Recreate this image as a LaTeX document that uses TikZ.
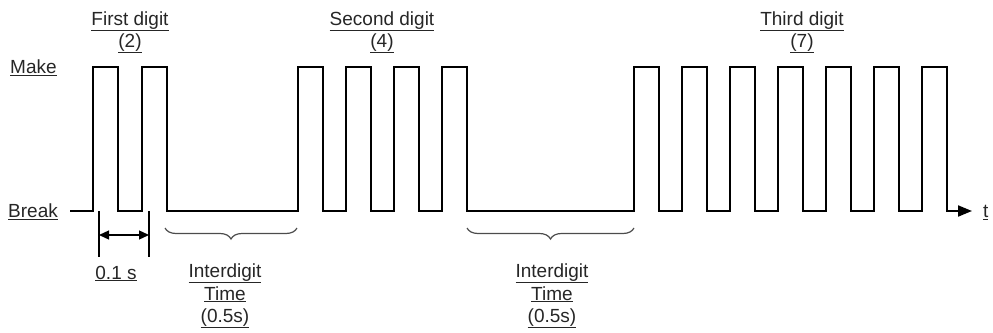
\documentclass[tikz,border=0pt]{standalone}
\usepackage{fontspec}
\setmainfont{Liberation Sans}
\usetikzlibrary{arrows.meta,decorations.pathreplacing}
\newcommand{\ul}[1]{\underline{#1}}
\begin{document}
\begin{tikzpicture}[x=1pt,y=-1pt,
  lbl/.style={inner sep=0pt,font=\fontsize{19}{23}\selectfont,text=black!85},
  wave/.style={line width=2pt,line join=miter},
  dim/.style={line width=1.3pt},
  brc/.style={line width=1.2pt,draw=black!70,decorate,decoration={brace,mirror,amplitude=11pt,raise=0pt}}]
\useasboundingbox (0,0) rectangle (993,332);
% waveform
\draw[wave,-{Triangle[length=14pt,width=11pt]}] (70,211)
  foreach \x in {93,142,298,346,394,442,634,682,730,778,826,874,922} {
    -- (\x,211) -- (\x,67) -- (\x+25,67) -- (\x+25,211) } -- (972,211);
% level labels
\node[lbl,anchor=base west] (make) at (10,73.5) {\ul{Make}};
\node[lbl,anchor=base west] (brk) at (8,217.5) {\ul{Break}};
\node[lbl,anchor=base west] (t) at (983,217.5) {\ul{t}};
% digit labels
\node[lbl,anchor=base] (d1) at (130,25) {\ul{First digit}};
\node[lbl,anchor=base] (d1n) at (130,47) {\ul{(2)}};
\node[lbl,anchor=base] (d2) at (382,25) {\ul{Second digit}};
\node[lbl,anchor=base] (d2n) at (382,47) {\ul{(4)}};
\node[lbl,anchor=base] (d3) at (802,25) {\ul{Third digit}};
\node[lbl,anchor=base] (d3n) at (802,47) {\ul{(7)}};
% 0.1 s dimension
\coordinate (da1) at (99,211);
\coordinate (da2) at (99,257);
\coordinate (db1) at (149,211);
\coordinate (db2) at (149,257);
\coordinate (ma) at (99,235);
\coordinate (mb) at (149,235);
\draw[dim] (da1) -- (da2);
\draw[dim] (db1) -- (db2);
\draw[dim,{Triangle[length=10pt,width=9pt]}-{Triangle[length=10pt,width=9pt]}] (ma) -- (mb);
\node[lbl,anchor=base] (p1) at (116,279) {\ul{0.1 s}};
% braces
\coordinate (b1a) at (165,228);
\coordinate (b1b) at (297,228);
\coordinate (b2a) at (467,228);
\coordinate (b2b) at (634,228);
\draw[brc] (b1a) -- (b1b);
\draw[brc] (b2a) -- (b2b);
\node[lbl,anchor=base] (i1a) at (225,277) {\ul{Interdigit}};
\node[lbl,anchor=base] (i1b) at (225,300) {\ul{Time}};
\node[lbl,anchor=base] (i1c) at (225,322) {\ul{(0.5s)}};
\node[lbl,anchor=base] (i2a) at (552,277) {\ul{Interdigit}};
\node[lbl,anchor=base] (i2b) at (552,300) {\ul{Time}};
\node[lbl,anchor=base] (i2c) at (552,322) {\ul{(0.5s)}};
\end{tikzpicture}
\end{document}
